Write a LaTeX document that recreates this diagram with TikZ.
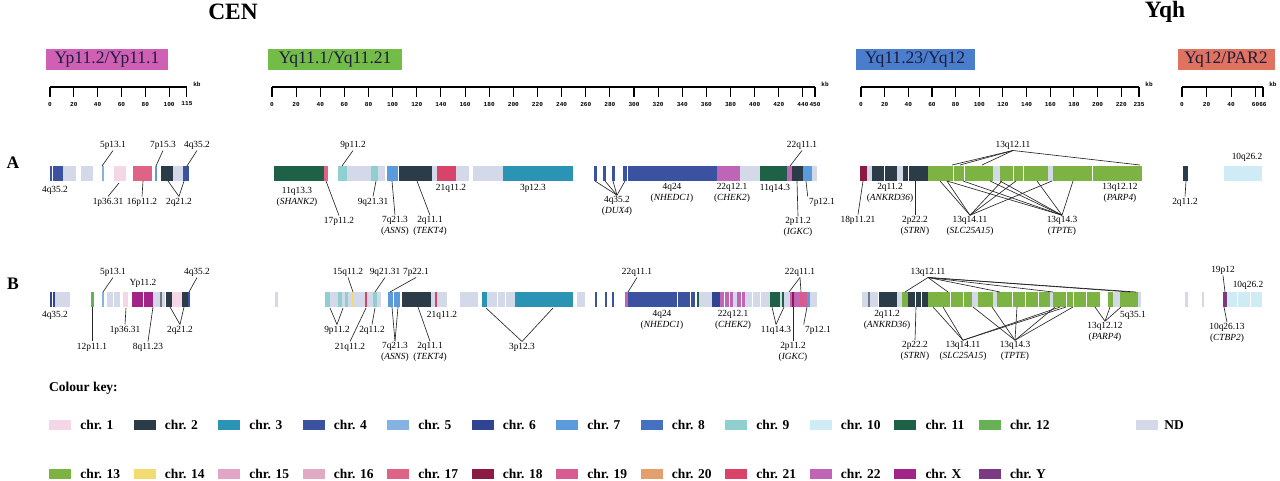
\documentclass[tikz,border=0pt]{standalone}
\usepackage{fontspec}
\setmainfont{Liberation Serif}
\setmonofont{Liberation Mono}
\usetikzlibrary{positioning}

\definecolor{cOne}{HTML}{F4D6E6}
\definecolor{cTwo}{HTML}{2C3B48}
\definecolor{cThree}{HTML}{2B93B3}
\definecolor{cFour}{HTML}{3A52A0}
\definecolor{cFive}{HTML}{84B3E3}
\definecolor{cSix}{HTML}{2F4592}
\definecolor{cSeven}{HTML}{5B9BDB}
\definecolor{cEight}{HTML}{4670C0}
\definecolor{cNine}{HTML}{8FCFD0}
\definecolor{cTen}{HTML}{CFEBF6}
\definecolor{cEleven}{HTML}{1F6147}
\definecolor{cTwelve}{HTML}{66B156}
\definecolor{cThirteen}{HTML}{7DB342}
\definecolor{cFourteen}{HTML}{F2DC72}
\definecolor{cFifteen}{HTML}{E3A5C6}
\definecolor{cSixteen}{HTML}{E2A9C5}
\definecolor{cSeventeen}{HTML}{DE6384}
\definecolor{cEighteen}{HTML}{8B1A45}
\definecolor{cNineteen}{HTML}{D85C92}
\definecolor{cTwenty}{HTML}{E4A06C}
\definecolor{cTwentyOne}{HTML}{D9436A}
\definecolor{cTwentyTwo}{HTML}{C065B5}
\definecolor{cX}{HTML}{A22487}
\definecolor{cY}{HTML}{7C3A82}
\definecolor{cND}{HTML}{D3D9E8}
\definecolor{cMid}{HTML}{707880}
\definecolor{cInk}{HTML}{1C1C40}
\definecolor{hdrMag}{HTML}{D060B4}
\definecolor{hdrGreen}{HTML}{74BC48}
\definecolor{hdrBlue}{HTML}{4A7DCC}
\definecolor{hdrSalmon}{HTML}{E07260}

\newcommand{\labfont}{\fontsize{8}{9}\selectfont}
\tikzset{
  leader/.style={line width=0.55pt, black!85},
  lab/.style={font=\labfont, inner sep=1pt, align=center},
  hdr/.style={fill=#1, text=cInk, font=\fontsize{15}{15}\selectfont,
    inner sep=0pt, minimum height=0.63cm},
  rowlab/.style={font=\bfseries\fontsize{15}{15}\selectfont},
  ttl/.style={font=\bfseries\fontsize{20}{20}\selectfont},
  kbnum/.style={font=\ttfamily\bfseries\fontsize{5.2}{6}\selectfont, inner sep=0pt},
  scaleline/.style={line width=0.9pt},
  sepline/.style={white, line width=0.6pt},
  swatch/.style={fill=#1, minimum width=0.66cm, minimum height=0.3cm, inner sep=0pt},
  keytxt/.style={font=\bfseries\fontsize{11.5}{12}\selectfont, inner sep=0pt}
}
\newcommand{\segrow}[2]{\foreach \a/\b/\c in {#2} \fill[\c] (\a,#1) rectangle (\b,#1+15);}
\newcommand{\seprow}[2]{\foreach \a in {#2} \draw[sepline] (\a,#1) -- (\a,#1+15);}
\newcommand{\kbscale}[4]{%
  \draw[scaleline] (#1,87) -- ({#1+#2*#3},87);
  \foreach \k in {#4} {
    \draw[scaleline] ({#1+#2*\k},87) -- ({#1+#2*\k},97);
    \node[kbnum] at ({#1+#2*\k},104) {\k};
  }
  \node[kbnum] at ({#1+#2*#3+10},84) {kb};
}

\begin{document}
\begin{tikzpicture}[x=0.03cm, y=-0.03cm]
  \useasboundingbox (0,0) rectangle (1280,481);

  % titles and region headers
  \node[ttl] (cen) at (233,12) {CEN};
  \node[ttl] (yqh) at (1165,12) {Yqh};
  \node[hdr=hdrMag, minimum width=3.66cm] (hYp) at (107,60) {Yp11.2/Yp11.1};
  \node[hdr=hdrGreen, minimum width=3.99cm] (hYqa) at (335,60) {Yq11.1/Yq11.21};
  \node[hdr=hdrBlue, minimum width=3.57cm] (hYqb) at (915,60) {Yq11.23/Yq12};
  \node[hdr=hdrSalmon, minimum width=2.91cm] (hPar) at (1226,60) {Yq12/PAR2};

  % kb scales
  \kbscale{50}{1.191}{115}{0,20,40,60,80,100,115}
  \kbscale{272}{1.2067}{450}{0,20,...,440,450}
  \kbscale{861}{1.183}{235}{0,20,...,220,235}
  \kbscale{1182}{1.227}{66}{0,20,40,60,66}

  \node[rowlab] (rowA) at (13,163) {A};
  \node[rowlab] (rowB) at (13,284) {B};

  % row A bars
  \segrow{166}{50/63/cFour, 63/76/cND, 81/93/cND, 102/103.5/cFive, 114/126/cOne,
    133/152/cSeventeen, 155/157/cSeven, 161/173/cTwo, 173/183/cND, 183/189/cFour,
    274/324/cEleven, 324/328/cSeventeen, 338/347/cNine, 347/371/cND, 371/378/cNine,
    378/385/cND, 387/398/cSeven, 399/432/cTwo, 432/437/cND, 437/456/cTwentyOne,
    456/469/cND, 473/503/cND, 503/573/cThree,
    594/597/cFour, 603/606/cFour, 612/615/cFour, 623/717/cFour, 717/740/cTwentyTwo,
    740/760/cND, 760/787/cEleven, 787/792/cTwentyTwo, 792/803/cTwo, 803/812/cSeven,
    812/817/cND,
    860/867/cEighteen, 867/872/cND, 872/897/cTwo, 897/903/cND, 903/928/cTwo,
    928/993/cThirteen, 993/1000/cND, 1000/1048/cThirteen, 1048/1053/cND,
    1053/1142/cThirteen, 1183/1188/cTwo, 1224/1262/cTen}
  \seprow{166}{52, 627.5, 884, 908, 953, 964, 1013, 1023, 1092}

  % row B bars
  \segrow{292}{50/55/cSix, 55/70/cND, 91/94/cTwelve, 102/103.5/cFive, 107/120/cND,
    123/128/cOne, 132/153/cX, 153/165/cND, 160/161.5/cMid, 166/172/cTwo, 172/182/cOne,
    182/188/cTwo, 188/190/cFour,
    275/278/cND, 325/330/cNine, 330/338/cND, 338/342/cNine, 342/345/cND, 345/348/cNine,
    348/352/cND, 352/354/cFourteen, 354/365/cND, 365/367/cTwentyOne, 367/373/cND,
    373/377/cNine, 377/381/cND, 388/400/cSeven, 402/431/cTwo, 431/435/cND,
    435/437/cTwentyOne, 437/447/cND, 460/478/cND, 482/487/cThree, 487/515/cND,
    515/573/cThree, 577/585/cND,
    595/597/cFour, 605/607/cFour, 612/614/cFour, 625/628/cTwentyTwo, 628/695/cFour,
    697/699/cEleven, 699/712/cND, 712/720/cSix, 720/733/cTwentyTwo, 733/737/cND,
    737/745/cTwentyTwo, 745/770/cND, 770/780/cEleven, 780/782/cND, 782/784/cEleven,
    784/790/cND, 790/800/cTwentyTwo, 792/793.5/cEighteen, 800/807/cNineteen,
    807/810/cSeven, 810/817/cND,
    862/878/cND, 868/869.5/cMid, 879/897/cTwo, 897/902/cND, 902/908/cThirteen,
    908/928/cTwo, 928/972/cThirteen, 972/978/cND, 978/993/cThirteen, 993/997/cND,
    997/1050/cThirteen, 1050/1053/cND, 1053/1100/cThirteen, 1108/1113/cThirteen,
    1113/1120/cND, 1120/1138/cThirteen, 1138/1141/cND,
    1185/1188/cND, 1202/1204/cND, 1223/1227/cY, 1227/1262/cTen}
  \seprow{292}{52, 113, 143, 393, 497, 505, 677.5, 690, 724, 729, 741, 752, 760,
    915, 921, 950, 963, 1012, 1025, 1038, 1066, 1073, 1086, 1237, 1250}

  % row A labels
  \node[lab] (aFiveP) at (113,145) {5p13.1};
  \node[lab] (aSevenP) at (163,145) {7p15.3};
  \node[lab] (aFourR) at (197,145) {4q35.2};
  \node[lab] (aFourL) at (55,190) {4q35.2};
  \node[lab] (aOneP) at (108,202) {1p36.31};
  \node[lab] (aSixteen) at (142,202) {16p11.2};
  \node[lab] (aTwoQ) at (179,202) {2q21.2};
  \draw[leader] (aFiveP.south) -- (102,166);
  \draw[leader] (aSevenP.south) -- (156,166);
  \draw[leader] (aFourR.south) -- (187,166);
  \draw[leader] (aOneP.north) -- (119,183);
  \draw[leader] (aSixteen.north) -- (143,181);
  \draw[leader] (aTwoQ.north) -- (168,181);
  \draw[leader] (aTwoQ.north) -- (184,181);

  \node[lab] (aNineP) at (353,145) {9p11.2};
  \node[lab] (aShank) at (297,197) {11q13.3\\(\textit{SHANK2})};
  \node[lab] (aSeventeen) at (339,221) {17p11.2};
  \node[lab] (aNineQ) at (373,202) {9q21.31};
  \node[lab] (aAsns) at (395,226) {7q21.3\\(\textit{ASNS})};
  \node[lab] (aTekt) at (430,226) {2q11.1\\(\textit{TEKT4})};
  \node[lab] (aTwentyOne) at (451,188) {21q11.2};
  \node[lab] (aThreeP) at (533,188) {3p12.3};
  \node[lab] (aDux) at (617,206) {4q35.2\\(\textit{DUX4})};
  \node[lab] (aNhedc) at (672,193) {4q24\\(\textit{NHEDC1})};
  \node[lab] (aChek) at (732,193) {22q12.1\\(\textit{CHEK2})};
  \node[lab] (aElevenQ) at (775,188) {11q14.3};
  \node[lab] (aTwentyTwo) at (802,145) {22q11.1};
  \node[lab] (aSevenPb) at (822,202) {7p12.1};
  \node[lab] (aIgkc) at (798,227) {2p11.2\\(\textit{IGKC})};
  \draw[leader] (aNineP.south) -- (342,166);
  \draw[leader] (aSeventeen.north) -- (326,181);
  \draw[leader] (aNineQ.north) -- (376,181);
  \draw[leader] (aAsns.north) -- (392,181);
  \draw[leader] (aTekt.north) -- (417,181);
  \foreach \t in {595,605,613,625} \draw[leader] (aDux.north) -- (\t,181);
  \draw[leader] (aTwentyTwo.south) -- (790,166);
  \draw[leader] (aSevenPb.north west) -- (806,181);
  \draw[leader] (aIgkc.north) -- (797,181);

  \node[lab] (aThirteenA) at (1013,145) {13q12.11};
  \node[lab] (aTenQ) at (1247,157) {10q26.2};
  \node[lab] (aTwoQR) at (1185,202) {2q11.2};
  \node[lab] (aAnkrd) at (890,193) {2q11.2\\(\textit{ANKRD36})};
  \node[lab] (aEighteen) at (858,220) {18p11.21};
  \node[lab] (aStrn) at (915,226) {2p22.2\\(\textit{STRN})};
  \node[lab] (aParp) at (1120,193) {13q12.12\\(\textit{PARP4})};
  \node[lab] (aSlc) at (970,226) {13q14.11\\(\textit{SLC25A15})};
  \node[lab] (aTpte) at (1062,226) {13q14.3\\(\textit{TPTE})};
  \foreach \t in {952,960,982,1140} \draw[leader] (aThirteenA.south) -- (\t,165);
  \draw[leader] (aTwoQR.north) -- (1186,181);
  \draw[leader] (aEighteen.north) -- (863,181);
  \draw[leader] (aStrn.north) -- (915,181);
  \foreach \t in {940,947,1002,1016,1052} \draw[leader] (aSlc.north) -- (\t,181);
  \foreach \t in {947,963,990,1000,1037,1073} \draw[leader] (aTpte.north) -- (\t,181);

  % row B labels
  \node[lab] (bFiveP) at (113,272) {5p13.1};
  \node[lab] (bYp) at (143,283) {Yp11.2};
  \node[lab] (bFourR) at (197,272) {4q35.2};
  \node[lab] (bFourL) at (55,315) {4q35.2};
  \node[lab] (bOneP) at (125,330) {1p36.31};
  \node[lab] (bTwoQ) at (180,330) {2q21.2};
  \node[lab] (bTwelve) at (92,347) {12p11.1};
  \node[lab] (bEight) at (148,347) {8q11.23};
  \draw[leader] (bFiveP.south) -- (103,292);
  \draw[leader] (bFourR.south) -- (189,292);
  \draw[leader] (bOneP.north) -- (126,308);
  \draw[leader] (bTwoQ.north) -- (170,307);
  \draw[leader] (bTwoQ.north) -- (184,307);
  \draw[leader] (bTwelve.north) -- (92,307);
  \draw[leader] (bEight.north) -- (153,307);

  \node[lab] (bFifteen) at (348,272) {15q11.2};
  \node[lab] (bNineQ) at (385,272) {9q21.31};
  \node[lab] (bSevenP) at (416,272) {7p22.1};
  \node[lab] (bNineP) at (337,330) {9p11.2};
  \node[lab] (bTwoQb) at (372,330) {2q11.2};
  \node[lab] (bTwentyOneL) at (350,347) {21q11.2};
  \node[lab] (bTwentyOneR) at (442,315) {21q11.2};
  \node[lab] (bAsns) at (395,352) {7q21.3\\(\textit{ASNS})};
  \node[lab] (bTekt) at (430,352) {2q11.1\\(\textit{TEKT4})};
  \node[lab] (bThreeP) at (522,347) {3p12.3};
  \draw[leader] (bFifteen.south) -- (353,292);
  \draw[leader] (bNineQ.south) -- (375,292);
  \draw[leader] (bSevenP.south) -- (390,292);
  \draw[leader] (bNineP.north) -- (330,308);
  \draw[leader] (bNineP.north) -- (343,308);
  \draw[leader] (bTwoQb.north) -- (375,308);
  \draw[leader] (bTwentyOneL.north) -- (366,308);
  \draw[leader] (bAsns.north) -- (392,307);
  \draw[leader] (bAsns.north) -- (398,307);
  \draw[leader] (bTekt.north) -- (418,307);
  \draw[leader] (bThreeP.north) -- (486,308);
  \draw[leader] (bThreeP.north) -- (553,308);

  \node[lab] (bTwentyTwoL) at (637,272) {22q11.1};
  \node[lab] (bNhedc) at (662,320) {4q24\\(\textit{NHEDC1})};
  \node[lab] (bChek) at (733,320) {22q12.1\\(\textit{CHEK2})};
  \node[lab] (bElevenQ) at (776,330) {11q14.3};
  \node[lab] (bTwentyTwoR) at (800,272) {22q11.1};
  \node[lab] (bSevenPb) at (818,330) {7p12.1};
  \node[lab] (bIgkc) at (793,352) {2p11.2\\(\textit{IGKC})};
  \draw[leader] (bTwentyTwoL.south) -- (628,292);
  \draw[leader] (bElevenQ.north) -- (772,307);
  \draw[leader] (bElevenQ.north) -- (784,307);
  \draw[leader] (bTwentyTwoR.south) -- (789,292);
  \draw[leader] (bTwentyTwoR.south) -- (801,292);
  \draw[leader] (bSevenPb.north west) -- (807,307);
  \draw[leader] (bIgkc.north) -- (793,307);

  \node[lab] (bThirteenA) at (928,272) {13q12.11};
  \node[lab] (bAnkrd) at (887,320) {2q11.2\\(\textit{ANKRD36})};
  \node[lab] (bStrn) at (915,351) {2p22.2\\(\textit{STRN})};
  \node[lab] (bSlc) at (963,351) {13q14.11\\(\textit{SLC25A15})};
  \node[lab] (bTpte) at (1015,351) {13q14.3\\(\textit{TPTE})};
  \node[lab] (bParp) at (1105,332) {13q12.12\\(\textit{PARP4})};
  \node[lab] (bFiveQ) at (1133,315) {5q35.1};
  \node[lab] (bNineteen) at (1223,270) {19p12};
  \node[lab] (bTenQ) at (1248,285) {10q26.2};
  \node[lab] (bCtbp) at (1227,333) {10q26.13\\(\textit{CTBP2})};
  \foreach \t in {905,948,1000,1053,1130,1136} \draw[leader] (bThirteenA.south) -- (\t,292);
  \draw[leader] (bStrn.north) -- (916,307);
  \foreach \t in {933,943,1060,1066} \draw[leader] (bSlc.north) -- (\t,307);
  \foreach \t in {973,992,1017,1055,1073} \draw[leader] (bTpte.north) -- (\t,307);
  \foreach \t in {1095,1110,1121} \draw[leader] (bParp.north) -- (\t,307);
  \draw[leader] (bNineteen.south) -- (1225,292);
  \draw[leader] (bCtbp.north) -- (1224,307);

  % colour key
  \node[keytxt, anchor=west] (keyTitle) at (49,388) {Colour key:};
  \foreach \c/\t [count=\i] in {cOne/1, cTwo/2, cThree/3, cFour/4, cFive/5, cSix/6,
      cSeven/7, cEight/8, cNine/9, cTen/10, cEleven/11, cTwelve/12} {
    \node[swatch=\c] (kA\i) at ({60+84.5*(\i-1)},425) {};
    \node[keytxt, right=7.7pt of kA\i] {chr. \t};
  }
  \node[swatch=cND] (kND) at (1147,425) {};
  \node[keytxt, right=5pt of kND] {ND};
  \foreach \c/\t [count=\i] in {cThirteen/13, cFourteen/14, cFifteen/15, cSixteen/16,
      cSeventeen/17, cEighteen/18, cNineteen/19, cTwenty/20, cTwentyOne/21,
      cTwentyTwo/22, cX/X, cY/Y} {
    \node[swatch=\c] (kB\i) at ({60+84.5*(\i-1)},474) {};
    \node[keytxt, right=7.7pt of kB\i] {chr. \t};
  }
\end{tikzpicture}
\end{document}
